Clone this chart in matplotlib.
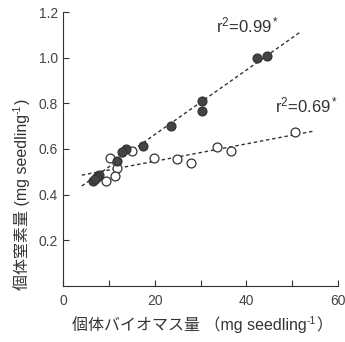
import matplotlib
matplotlib.use("Agg")
import matplotlib.pyplot as plt
import numpy as np

plt.rcParams['font.family'] = ['Liberation Sans', 'Noto Sans CJK JP', 'DejaVu Sans']
plt.rcParams['mathtext.fontset'] = 'custom'
plt.rcParams['mathtext.rm'] = 'Liberation Sans'
plt.rcParams['mathtext.it'] = 'Liberation Sans:italic'

# Filled circles (series 1)
filled_x = [42.3, 44.4, 30.4, 30.4, 23.5, 17.5, 13.7, 12.9, 11.8, 7.9, 7.4, 6.5, 7.0]
filled_y = [0.997, 1.007, 0.812, 0.768, 0.700, 0.615, 0.599, 0.588, 0.547, 0.486, 0.479, 0.461, 0.470]
# Open circles (series 2)
open_x = [50.6, 33.7, 36.7, 19.9, 24.8, 27.9, 15.0, 10.3, 11.8, 11.3, 9.4]
open_y = [0.673, 0.610, 0.590, 0.562, 0.555, 0.539, 0.591, 0.562, 0.516, 0.483, 0.460]

# Regression lines: (slope, intercept, x_start, x_end)
fit_filled = (0.01414, 0.380, 4.1, 51.7)
fit_open = (0.00381, 0.470, 4.1, 55.0)

x_ticks = [0, 20, 40, 60]
x_minor = [10, 30, 50]
y_ticks = [0.2, 0.4, 0.6, 0.8, 1.0, 1.2]

xlabel_parts = ['個体バイオマス量 （mg seedling', '-1', '）']
ylabel_parts = ['個体窒素量 (mg seedling', '-1', ')']

W, H = 345, 342
fig = plt.figure(figsize=(W / 100, H / 100), dpi=100)
ax = fig.add_axes([63 / W, 1 - 286 / H, 275 / W, 274 / H])

for (s, b, x0, x1) in [fit_filled, fit_open]:
    xs = np.array([x0, x1])
    ax.plot(xs, s * xs + b, linestyle=(0, (2.5, 2)), color='#333333', lw=1.0, zorder=1)

ax.plot(open_x, open_y, 'o', ms=6.4, mfc='white', mec='#333333', mew=0.9, zorder=2)
ax.plot(filled_x, filled_y, 'o', ms=6.4, mfc='#444444', mec='#333333', mew=0.9, zorder=3)

ax.set_xlim(0, 60)
ax.set_ylim(0, 1.2)
ax.set_xticks(x_ticks)
ax.set_xticks(x_minor, minor=True)
ax.set_yticks(y_ticks)
ax.set_yticklabels([f"{v:.1f}" for v in y_ticks])
ax.tick_params(direction='in', length=4, width=0.8, labelsize=10, colors='#333333', labelcolor='#444444')
ax.tick_params(which='minor', direction='in', length=4, width=0.8, colors='#333333')
ax.tick_params(axis='x', pad=6)
for sp in ['top', 'right']:
    ax.spines[sp].set_visible(False)
for sp in ['left', 'bottom']:
    ax.spines[sp].set_linewidth(0.8)
    ax.spines[sp].set_color('#333333')

ax.text(40.2, 1.14, r'r$^2$=0.99$^*$', fontsize=12, ha='center', va='center', color='#333333')
ax.text(53.2, 0.79, r'r$^2$=0.69$^*$', fontsize=12, ha='center', va='center', color='#333333')

# Axis labels built from pieces (CJK text + raised superscript)
fig.canvas.draw()
rend = fig.canvas.get_renderer()
main_fs, sup_fs = 11.5, 7.5
col = '#333333'

# x label: left-baseline start in pixels (from bottom-left)
px, py = 72, 12
for i, part in enumerate(xlabel_parts):
    fs = sup_fs if i == 1 else main_fs
    dy = 6 if i == 1 else 0
    t = fig.text(px / W, (py + dy) / H, part, fontsize=fs, color=col,
                 ha='left', va='baseline')
    px += t.get_window_extent(rend).width

# y label: rotated 90, start at bottom
px, py = 27, 52
for i, part in enumerate(ylabel_parts):
    fs = sup_fs if i == 1 else main_fs
    dx = -6 if i == 1 else 0
    t = fig.text((px + dx) / W, py / H, part, fontsize=fs, color=col, rotation=90,
                 rotation_mode='anchor', ha='left', va='baseline')
    py += t.get_window_extent(rend).height

fig.savefig('out.png', dpi=100)
